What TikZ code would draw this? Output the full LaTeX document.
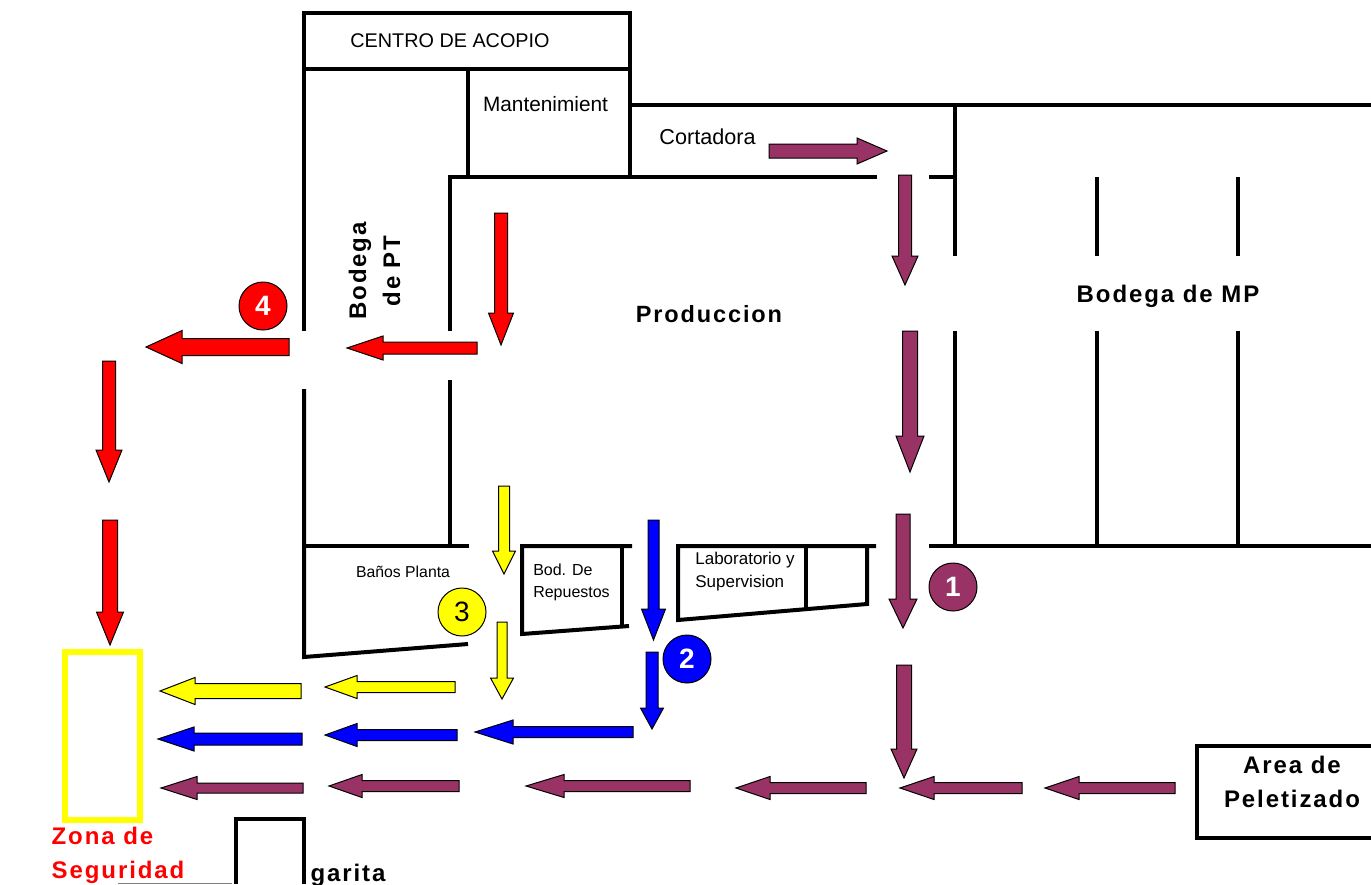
\documentclass[tikz,border=0pt]{standalone}
\usepackage{fontspec}
\setmainfont{Liberation Sans}
\newfontfamily\spaced[LetterSpace=8]{Liberation Sans}
\definecolor{plum}{HTML}{993366}
\definecolor{yel}{HTML}{FFFF00}
\definecolor{blu}{HTML}{0000FF}
\definecolor{rd}{HTML}{FF0000}
% colour, start x, tip x, y, shaft, head, head length
\newcommand\arrH[7]{\path[blockarrow,fill=#1] (#2,{#4-#5/2}) -- ({#3+(#2>#3 ? 1 : -1)*#7},{#4-#5/2}) -- ({#3+(#2>#3 ? 1 : -1)*#7},{#4-#6/2}) -- (#3,#4) -- ({#3+(#2>#3 ? 1 : -1)*#7},{#4+#6/2}) -- ({#3+(#2>#3 ? 1 : -1)*#7},{#4+#5/2}) -- (#2,{#4+#5/2}) -- cycle;}
% colour, x, start y, tip y, shaft, head, head length
\newcommand\arrD[7]{\path[blockarrow,fill=#1] ({#2-#5/2},#3) -- ({#2-#5/2},{#4-#7}) -- ({#2-#6/2},{#4-#7}) -- (#2,#4) -- ({#2+#6/2},{#4-#7}) -- ({#2+#5/2},{#4-#7}) -- ({#2+#5/2},#3) -- cycle;}
\tikzset{
  blockarrow/.style={draw=black,line width=1pt,line join=miter},
  wall/.style={draw=black,line width=4pt,line cap=butt,line join=miter},
  plainlabel/.style={inner sep=0pt,align=center,text=black},
  boldlabel/.style={inner sep=0pt,align=center,font=\spaced\bfseries\fontsize{24}{34}\selectfont},
  badge/.style={ellipse,draw=black,line width=1pt,minimum width=48pt,minimum height=48pt,inner sep=0pt,font=\bfseries\fontsize{28}{28}\selectfont},
}
\usetikzlibrary{shapes.geometric}
\begin{document}
\begin{tikzpicture}[x=1pt,y=-1pt]
\useasboundingbox (0,0) rectangle (1371,884);
\fill[white] (0,0) rectangle (1371,884);
% walls
\draw[wall] (304,331) -- (304,13) -- (630,13) -- (630,177);
\draw[wall] (304,69) -- (630,69);
\draw[wall] (468,69) -- (468,177);
\draw[wall] (630,105) -- (1371,105);
\draw[wall] (450,331) -- (450,177) -- (877,177);
\draw[wall] (929,177) -- (955,177);
\draw[wall] (955,105) -- (955,256);
\draw[wall] (955,331) -- (955,546);
\draw[wall] (929,546) -- (1371,546);
\draw[wall] (1097,177) -- (1097,256);
\draw[wall] (1097,331) -- (1097,546);
\draw[wall] (1238,177) -- (1238,256);
\draw[wall] (1238,331) -- (1238,546);
\draw[wall] (450,380) -- (450,546);
\draw[wall] (304,389) -- (304,657) -- (468,644);
\draw[wall] (304,546) -- (469,546);
\draw[wall] (632,546) -- (522,546) -- (522,634) -- (629,626);
\draw[wall] (622,546) -- (622,626);
\draw[wall] (876,546) -- (678,546) -- (678,620) -- (867,604) -- (867,546);
\draw[wall] (806,546) -- (806,608);
\draw[wall] (1371,746) -- (1197,746) -- (1197,838) -- (1371,838);
\draw[wall] (236,884) -- (236,819) -- (304,819) -- (304,884);
\draw[gray,line width=1pt] (118,883) -- (232,883);
\draw[draw=yel,line width=6pt] (65,652) rectangle (140,820);
% plum arrows
\arrH{plum}{769}{887}{151}{14}{26}{30}
\arrD{plum}{905}{175}{285}{13}{26}{29}
\arrD{plum}{910}{331}{472}{15}{28}{36}
\arrD{plum}{903}{514}{628}{14}{28}{29}
\arrD{plum}{904}{665}{778}{15}{26}{29}
\arrH{plum}{1175}{1045}{788}{11}{23}{34}
\arrH{plum}{1022}{900}{788}{11}{23}{34}
\arrH{plum}{866}{736}{788}{11}{23}{34}
\arrH{plum}{690}{526}{786}{11}{23}{38}
\arrH{plum}{459}{329}{786}{11}{23}{33}
\arrH{plum}{303}{161}{788}{10}{23}{36}
% blue arrows
\arrH{blu}{302}{158}{739}{12}{24}{36}
\arrH{blu}{457}{325}{735}{11}{23}{32}
\arrH{blu}{633}{475}{732}{11}{24}{38}
\arrD{blu}{653.5}{520}{640}{11}{24}{31}
\arrD{blu}{652}{652}{729}{12}{23}{21}
% yellow arrows
\arrH{yel}{301}{160}{691}{15}{27}{35}
\arrH{yel}{455}{325}{687}{11}{23}{32}
\arrD{yel}{504}{486}{574}{11}{23}{23}
\arrD{yel}{502}{622}{699}{10}{23}{21}
% red arrows
\arrD{rd}{501}{213}{345}{13}{25}{32}
\arrH{rd}{477}{347}{348}{12}{24}{36}
\arrH{rd}{289}{146}{347}{17}{33}{36}
\arrD{rd}{109}{361}{482}{13}{26}{32}
\arrD{rd}{110}{520}{645}{15}{27}{33}
% badges
\node[badge,fill=plum,text=white] (b1) at (953,587) {1};
\node[badge,fill=blu,text=white] (b2) at (687,659) {2};
\node[badge,fill=yel,text=black,font=\fontsize{28}{28}\selectfont] (b3) at (462,612) {3};
\node[badge,fill=rd,text=white] (b4) at (263,306) {4};
% labels
\node[plainlabel,font=\fontsize{19.8}{20}\selectfont] (centro) at (450,41) {CENTRO DE ACOPIO};
\node[plainlabel,font=\fontsize{20.8}{21}\selectfont] (mant) at (545.5,104) {Mantenimient};
\node[plainlabel,font=\fontsize{21.6}{22}\selectfont] (cort) at (707.5,137) {Cortadora};
\node[boldlabel,rotate=90] (pt) at (374.5,271) {Bodega\\de PT};
\node[boldlabel,font=\spaced\bfseries\fontsize{23.5}{33}\selectfont] (prod) at (709,314) {Produccion};
\node[boldlabel] (mp) at (1168,296) {Bodega de MP};
\node[plainlabel,font=\fontsize{15.8}{16}\selectfont] (ban) at (403,572) {Baños Planta};
\node[plainlabel,font=\fontsize{16}{22}\selectfont,align=left] (bod) at (571.5,582) {Bod. De\\Repuestos};
\node[plainlabel,font=\fontsize{17}{23}\selectfont,align=left] (lab) at (745,572) {Laboratorio y\\Supervision};
\node[boldlabel] (area) at (1292,782) {Area de\\Peletizado};
\node[boldlabel,text=rd,align=left,anchor=center] (zona) at (118,855) {Zona de\\Seguridad};
\node[boldlabel] (gar) at (348,875) {garita};
\end{tikzpicture}
\end{document}
